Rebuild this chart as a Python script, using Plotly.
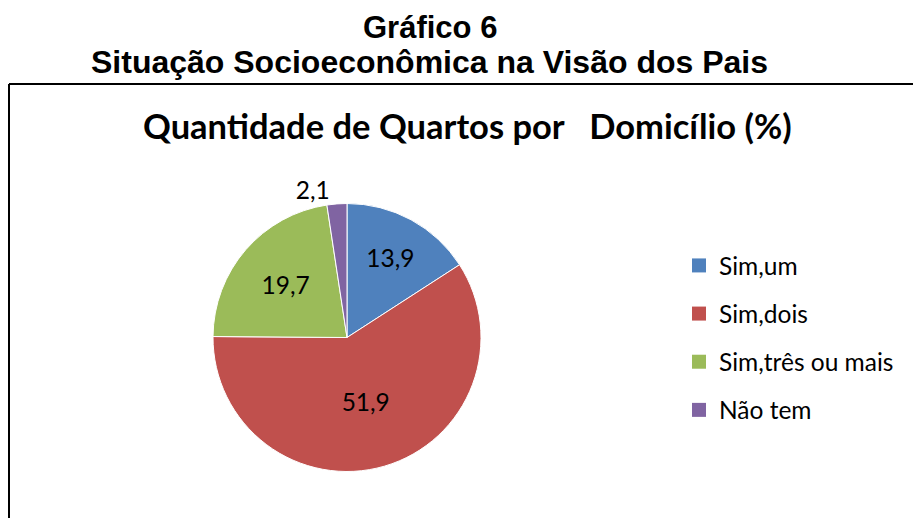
import plotly.graph_objects as go

categories = ["Sim,um", "Sim,dois", "Sim,três ou mais", "Não tem"]
values = [13.9, 51.9, 19.7, 2.1]
value_labels = ["13,9", "51,9", "19,7", "2,1"]
colors = ["#4F81BD", "#C0504D", "#9BBB59", "#8064A2"]
label_positions = ["inside", "inside", "inside", "outside"]

W, H = 913, 518
LABEL_FONT = "Lato, 'Noto Sans', sans-serif"

fig = go.Figure()

cx, cy, r = 347, 337.5, 134
fig.add_trace(go.Pie(
    labels=categories,
    values=values,
    text=value_labels,
    textinfo="text",
    textposition=label_positions,
    insidetextorientation="horizontal",
    textfont=dict(family=LABEL_FONT, size=24.5, color="#000000"),
    marker=dict(colors=colors, line=dict(color="#ffffff", width=1)),
    sort=False,
    direction="clockwise",
    rotation=0,
    showlegend=False,
    hoverinfo="label+text",
    domain=dict(x=[(cx - r) / W, (cx + r) / W], y=[1 - (cy + r) / H, 1 - (cy - r) / H]),
))

# legend entries
for i, (cat, col) in enumerate(zip(categories, colors)):
    fig.add_trace(go.Scatter(
        x=[None], y=[None], mode="markers", name=cat,
        marker=dict(symbol="square", size=14, color=col),
        legendgroup=f"g{i}", showlegend=True,
    ))

fig.update_layout(
    width=W, height=H,
    margin=dict(l=0, r=0, t=0, b=0),
    paper_bgcolor="#ffffff",
    plot_bgcolor="#ffffff",
    xaxis=dict(visible=False),
    yaxis=dict(visible=False),
    legend=dict(
        x=(719 - 40) / W, xanchor="left",
        y=1 - 243 / H, yanchor="top",
        font=dict(family=LABEL_FONT, size=24.5, color="#000000"),
        tracegroupgap=13.3,
        bgcolor="rgba(0,0,0,0)",
        itemclick=False, itemdoubleclick=False,
    ),
    annotations=[
        dict(text="<b>Gráfico 6</b>", x=430 / W, y=1 - 27.5 / H, xref="paper", yref="paper",
             xanchor="center", yanchor="middle", showarrow=False,
             font=dict(family="'Liberation Sans', Arial, sans-serif", size=31, color="#000000")),
        dict(text="<b>Situação Socioeconômica na Visão dos Pais</b>", x=429 / W, y=1 - 62 / H,
             xref="paper", yref="paper", xanchor="center", yanchor="middle", showarrow=False,
             font=dict(family="'Liberation Sans', Arial, sans-serif", size=32, color="#000000")),
        dict(text="<b>Quantidade de Quartos por\u00a0\u00a0\u00a0Domicílio (%)</b>", x=467 / W, y=1 - 126 / H,
             xref="paper", yref="paper", xanchor="center", yanchor="middle", showarrow=False,
             font=dict(family=LABEL_FONT, size=34.5, color="#000000")),
    ],
    shapes=[
        dict(type="line", xref="paper", yref="paper", x0=9 / W, x1=1.02, y0=1 - 84 / H, y1=1 - 84 / H,
             line=dict(color="#000000", width=2)),
        dict(type="line", xref="paper", yref="paper", x0=9 / W, x1=9 / W, y0=1 - 84 / H, y1=-0.05,
             line=dict(color="#000000", width=2)),
    ],
)

fig.write_html("out.html", config={"displayModeBar": False},
               post_script="document.body.style.margin='0px';")
